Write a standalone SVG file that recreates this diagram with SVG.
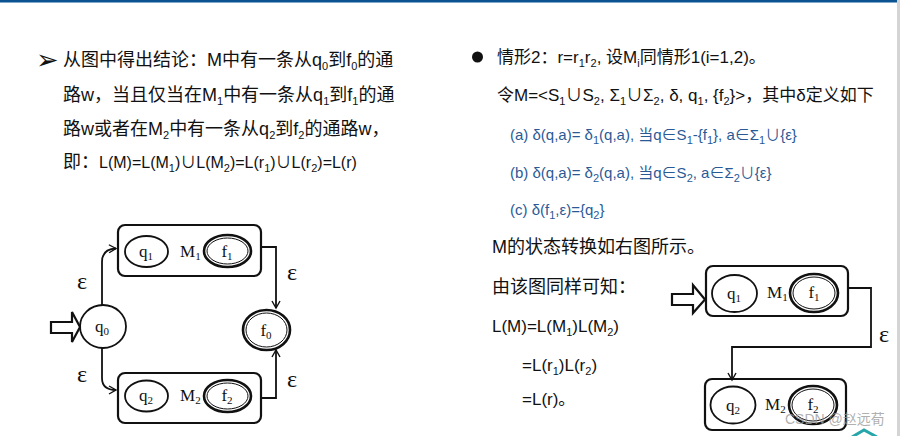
<svg xmlns="http://www.w3.org/2000/svg" width="900" height="436" viewBox="0 0 900 436">
<style>
.t{font-family:"Liberation Sans","Noto Sans CJK SC",sans-serif;font-size:17px;fill:#111}
.tl{font-size:18px}
.b{font-family:"Liberation Sans","Noto Sans CJK SC",sans-serif;font-size:15px;fill:#2a5a96}
.s{font-size:11px}
.lbl{font-family:"Liberation Serif","Noto Serif",serif;font-size:17px;fill:#111}
.eps{font-family:"Liberation Serif",serif;font-size:24px;fill:#111}
.box{fill:none;stroke:#111;stroke-width:2.2}
.st{fill:none;stroke:#111;stroke-width:1.8}
.fo{fill:none;stroke:#111;stroke-width:2.6}
.fi{fill:none;stroke:#111;stroke-width:1}
.con{fill:none;stroke:#111;stroke-width:1.8}
.start{fill:#fff;stroke:#111;stroke-width:2.2;stroke-linejoin:miter}
</style>
<defs>
<marker id="ah" markerWidth="10" markerHeight="10" refX="8" refY="5" orient="auto" markerUnits="userSpaceOnUse">
<path d="M1,1 L8,5 L1,9" fill="none" stroke="#111" stroke-width="1.4"/>
</marker>
</defs>
<rect x="0" y="0" width="900" height="2.5" fill="#0a5290"/>
<rect x="897" y="0" width="3" height="436" fill="#d4d4d4"/>

<g id="left-text">
<text x="36" y="69" font-family="DejaVu Sans" font-size="27" font-weight="bold" fill="#111">➢</text>
<text class="t tl" x="63" y="66">从图中得出结论：M中有一条从q<tspan class="s" dy="4">0</tspan><tspan dy="-4">到f</tspan><tspan class="s" dy="4">0</tspan><tspan dy="-4">的通</tspan></text>
<text class="t tl" x="63" y="101">路w，当且仅当在M<tspan class="s" dy="4">1</tspan><tspan dy="-4">中有一条从q</tspan><tspan class="s" dy="4">1</tspan><tspan dy="-4">到f</tspan><tspan class="s" dy="4">1</tspan><tspan dy="-4">的通</tspan></text>
<text class="t tl" x="63" y="135">路w或者在M<tspan class="s" dy="4">2</tspan><tspan dy="-4">中有一条从q</tspan><tspan class="s" dy="4">2</tspan><tspan dy="-4">到f</tspan><tspan class="s" dy="4">2</tspan><tspan dy="-4">的通路w，</tspan></text>
<text class="t tl" x="63" y="168">即：<tspan font-size="16">L(M)=L(M</tspan><tspan class="s" dy="4">1</tspan><tspan dy="-4" font-size="16">)∪L(M</tspan><tspan class="s" dy="4">2</tspan><tspan dy="-4" font-size="16">)=L(r</tspan><tspan class="s" dy="4">1</tspan><tspan dy="-4" font-size="16">)∪L(r</tspan><tspan class="s" dy="4">2</tspan><tspan dy="-4" font-size="16">)=L(r)</tspan></text>
</g>

<g id="right-text">
<circle cx="477.5" cy="57" r="5.5" fill="#111"/>
<text class="t" x="497" y="63">情形2：r=r<tspan class="s" dy="4">1</tspan><tspan dy="-4">r</tspan><tspan class="s" dy="4">2</tspan><tspan dy="-4">, 设M</tspan><tspan class="s" dy="4">i</tspan><tspan dy="-4">同情形1(i=1,2)。</tspan></text>
<text class="t" x="497" y="101">令M=&lt;S<tspan class="s" dy="4">1</tspan><tspan dy="-4">∪S</tspan><tspan class="s" dy="4">2</tspan><tspan dy="-4">, Σ</tspan><tspan class="s" dy="4">1</tspan><tspan dy="-4">∪Σ</tspan><tspan class="s" dy="4">2</tspan><tspan dy="-4">, δ, q</tspan><tspan class="s" dy="4">1</tspan><tspan dy="-4">, {f</tspan><tspan class="s" dy="4">2</tspan><tspan dy="-4">}&gt;，其中δ定义如下</tspan></text>
<text class="b" x="510" y="140">(a) δ(q,a)= δ<tspan class="s" dy="4">1</tspan><tspan dy="-4">(q,a), 当q∈S</tspan><tspan class="s" dy="4">1</tspan><tspan dy="-4">-{f</tspan><tspan class="s" dy="4">1</tspan><tspan dy="-4">}, a∈Σ</tspan><tspan class="s" dy="4">1</tspan><tspan dy="-4">∪{ε}</tspan></text>
<text class="b" x="510" y="178">(b) δ(q,a)= δ<tspan class="s" dy="4">2</tspan><tspan dy="-4">(q,a), 当q∈S</tspan><tspan class="s" dy="4">2</tspan><tspan dy="-4">, a∈Σ</tspan><tspan class="s" dy="4">2</tspan><tspan dy="-4">∪{ε}</tspan></text>
<text class="b" x="510" y="215">(c) δ(f<tspan class="s" dy="4">1</tspan><tspan dy="-4">,ε)={q</tspan><tspan class="s" dy="4">2</tspan><tspan dy="-4">}</tspan></text>
<text class="t tl" x="492" y="253">M的状态转换如右图所示。</text>
<text class="t tl" x="492" y="293">由该图同样可知：</text>
<text class="t" x="492" y="332" font-size="16">L(M)=L(M<tspan class="s" dy="4">1</tspan><tspan dy="-4">)L(M</tspan><tspan class="s" dy="4">2</tspan><tspan dy="-4">)</tspan></text>
<text class="t" x="522" y="371" font-size="16">=L(r<tspan class="s" dy="4">1</tspan><tspan dy="-4">)L(r</tspan><tspan class="s" dy="4">2</tspan><tspan dy="-4">)</tspan></text>
<text class="t" x="522" y="405" font-size="16">=L(r)。</text>
</g>

<!-- Left diagram nodes -->
<g id="L-M1">
<rect class="box" x="118" y="225" width="143" height="51" rx="7"/>
<ellipse class="st" cx="146.5" cy="251.5" rx="21.5" ry="15.5"/>
<text class="lbl" x="146" y="257" text-anchor="middle">q<tspan class="s" dy="3">1</tspan></text>
<text class="lbl" x="180" y="257">M<tspan class="s" dy="3">1</tspan></text>
<ellipse class="fo" cx="227.5" cy="251" rx="23.5" ry="16"/>
<ellipse class="fi" cx="227.5" cy="251" rx="20.5" ry="13"/>
<text class="lbl" x="227" y="257" text-anchor="middle">f<tspan class="s" dy="3">1</tspan></text>
</g>
<g id="L-M2">
<rect class="box" x="118" y="373" width="143" height="50" rx="7"/>
<ellipse class="st" cx="146.5" cy="396" rx="21.5" ry="15.5"/>
<text class="lbl" x="146" y="401" text-anchor="middle">q<tspan class="s" dy="3">2</tspan></text>
<text class="lbl" x="180" y="401">M<tspan class="s" dy="3">2</tspan></text>
<ellipse class="fo" cx="227.5" cy="396" rx="23.5" ry="16"/>
<ellipse class="fi" cx="227.5" cy="396" rx="20.5" ry="13"/>
<text class="lbl" x="227" y="401" text-anchor="middle">f<tspan class="s" dy="3">2</tspan></text>
</g>
<g id="L-q0">
<path class="start" d="M51,322 H72 V312 L80,327 L72,342 V333 H51 Z"/>
<ellipse class="st" cx="103" cy="326.5" rx="23" ry="21.5"/>
<text class="lbl" x="102" y="332" text-anchor="middle">q<tspan class="s" dy="3">0</tspan></text>
</g>
<g id="L-f0">
<ellipse class="fo" cx="266.5" cy="330" rx="23.5" ry="20"/>
<ellipse class="fi" cx="266.5" cy="330" rx="20.5" ry="17"/>
<text class="lbl" x="266" y="336" text-anchor="middle">f<tspan class="s" dy="3">0</tspan></text>
</g>

<!-- Right diagram nodes -->
<g id="R-M1">
<path class="start" d="M672,294 H693 V285 L705,299.5 L693,313 V305 H672 Z"/>
<rect class="box" x="706" y="266" width="142" height="50" rx="7"/>
<ellipse class="st" cx="734.5" cy="293.5" rx="22.5" ry="18.5"/>
<text class="lbl" x="734" y="299" text-anchor="middle">q<tspan class="s" dy="3">1</tspan></text>
<text class="lbl" x="767" y="298">M<tspan class="s" dy="3">1</tspan></text>
<ellipse class="fo" cx="814" cy="293" rx="24" ry="19"/>
<ellipse class="fi" cx="814" cy="293" rx="21" ry="16"/>
<text class="lbl" x="814" y="298" text-anchor="middle">f<tspan class="s" dy="3">1</tspan></text>
</g>
<g id="R-M2">
<rect class="box" x="705" y="379" width="141" height="51" rx="7"/>
<ellipse class="st" cx="733" cy="405" rx="22.5" ry="18.5"/>
<text class="lbl" x="733" y="411" text-anchor="middle">q<tspan class="s" dy="3">2</tspan></text>
<text class="lbl" x="765" y="410">M<tspan class="s" dy="3">2</tspan></text>
<ellipse class="fo" cx="813" cy="405" rx="24" ry="19"/>
<ellipse class="fi" cx="813" cy="405" rx="21" ry="16"/>
<text class="lbl" x="813" y="410" text-anchor="middle">f<tspan class="s" dy="3">2</tspan></text>
</g>

<g id="connectors">
<path class="con" d="M102,305 V262 Q102,249 116,248.5" marker-end="url(#ah)"/>
<path class="con" d="M102,348 V378 Q102,390 116,390" marker-end="url(#ah)"/>
<path class="con" d="M261,247 H276 V308" marker-end="url(#ah)"/>
<path class="con" d="M261,398 H276 V350" marker-end="url(#ah)"/>
<path class="con" d="M848,288 H871 V347 H732 V380" marker-end="url(#ah)"/>
<text class="eps" x="82" y="289" text-anchor="middle">ε</text>
<text class="eps" x="82" y="382" text-anchor="middle">ε</text>
<text class="eps" x="292" y="280" text-anchor="middle">ε</text>
<text class="eps" x="292" y="387" text-anchor="middle">ε</text>
<text class="eps" x="884" y="342" text-anchor="middle">ε</text>
</g>

<text x="785" y="424" font-family="Liberation Sans,Noto Sans CJK SC,sans-serif" font-size="14" fill="#9a9a9a" fill-opacity="0.8">CSDN @赵远荀</text>
<polyline points="852,437 864,430 877,437" fill="none" stroke="#26a6a8" stroke-width="3"/>
</svg>
